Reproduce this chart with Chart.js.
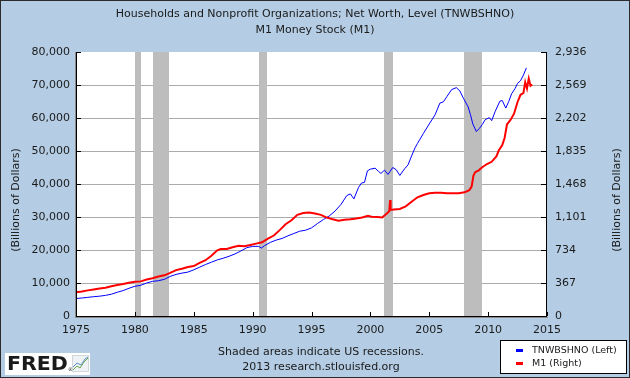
<!DOCTYPE html>
<html>
<head>
<meta charset="utf-8">
<script src="https://cdn.jsdelivr.net/npm/chart.js@4.4.1/dist/chart.umd.min.js"></script>
<style>
  html, body { margin: 0; padding: 0; background: #B4CDE4; }
  canvas { display: block; }
</style>
</head>
<body>
<canvas id="c" width="630" height="378"></canvas>
<script>
// ---- DATA ----
const titleLines = ["Households and Nonprofit Organizations; Net Worth, Level (TNWBSHNO)", "M1 Money Stock (M1)"];
const axisTitle = "(Billions of Dollars)";
const sourceLines = ["Shaded areas indicate US recessions.", "2013 research.stlouisfed.org"];
const seriesNames = ["TNWBSHNO (Left)", "M1 (Right)"];

const xTicks = [1975, 1980, 1985, 1990, 1995, 2000, 2005, 2010, 2015];
const leftTicks = [0, 10000, 20000, 30000, 40000, 50000, 60000, 70000, 80000];
const rightTicks = [0, 367, 734, 1101, 1468, 1835, 2202, 2569, 2936];

const recessionStart = [1980.0, 1981.5, 1990.5, 2001.17, 2007.92];
const recessionEnd   = [1980.5, 1982.9, 1991.2, 2001.9, 2009.5];

const netWorthDates = [1975.0,1975.5,1976.0,1976.5,1977.0,1977.5,1978.0,1978.5,1979.0,1979.5,1980.0,1980.5,1981.0,1981.5,1982.0,1982.5,1983.0,1983.5,1984.0,1984.5,1985.0,1985.5,1986.0,1986.5,1987.0,1987.5,1988.0,1988.5,1989.0,1989.5,1990.0,1990.5,1990.75,1991.0,1991.5,1992.0,1992.5,1993.0,1993.5,1994.0,1994.5,1995.0,1995.5,1996.0,1996.5,1997.0,1997.5,1998.0,1998.3,1998.6,1999.0,1999.25,1999.5,1999.75,2000.0,2000.4,2000.7,2000.9,2001.2,2001.5,2001.9,2002.2,2002.5,2002.9,2003.2,2003.5,2003.8,2004.0,2004.5,2005.0,2005.5,2005.9,2006.2,2006.5,2006.9,2007.3,2007.6,2007.9,2008.3,2008.5,2008.7,2009.0,2009.25,2009.5,2009.75,2010.1,2010.3,2010.6,2011.0,2011.2,2011.5,2011.75,2012.0,2012.3,2012.5,2012.75,2013.0,2013.25];
const netWorth = [5300,5450,5650,5850,6000,6250,6600,7200,7700,8400,9000,9300,10000,10500,10700,11100,12000,12600,13000,13300,14000,14800,15600,16300,17000,17500,18100,18800,19700,20700,21100,21100,20600,21300,22300,23000,23500,24300,25000,25700,26000,26700,28000,29200,30300,31800,33800,36500,37000,35500,39000,40300,40500,44000,44500,44800,43800,43200,44200,42900,45000,44300,42600,44600,45800,48500,51000,52300,55300,58200,61000,64500,64900,66500,68600,69200,68200,66000,63400,61000,58200,55900,56800,58000,59500,60100,59200,62000,65100,65300,63000,65000,67400,69000,70500,71300,73000,75200];

const m1Dates = [1975.0,1975.5,1976.0,1976.5,1977.0,1977.5,1978.0,1978.5,1979.0,1979.5,1980.0,1980.5,1981.0,1981.5,1982.0,1982.5,1983.0,1983.5,1984.0,1984.5,1985.0,1985.5,1986.0,1986.5,1987.0,1987.3,1987.8,1988.3,1988.8,1989.3,1989.8,1990.3,1990.8,1991.3,1991.8,1992.3,1992.8,1993.3,1993.8,1994.3,1994.8,1995.3,1995.8,1996.3,1996.8,1997.3,1997.8,1998.3,1998.8,1999.3,1999.8,2000.1,2000.6,2001.0,2001.3,2001.6,2001.68,2001.72,2002.0,2002.5,2003.0,2003.5,2004.0,2004.5,2005.0,2005.5,2006.0,2006.5,2007.0,2007.5,2008.0,2008.4,2008.6,2008.75,2008.9,2009.2,2009.5,2009.9,2010.3,2010.7,2010.9,2011.2,2011.4,2011.6,2011.9,2012.2,2012.5,2012.75,2013.0,2013.15,2013.3,2013.45,2013.6,2013.75];
const m1 = [265,272,285,295,305,315,330,345,355,370,380,385,405,420,440,452,480,510,525,545,555,590,620,670,730,745,745,765,780,775,790,805,820,860,895,955,1020,1065,1125,1145,1150,1140,1125,1095,1075,1060,1070,1075,1085,1095,1115,1105,1100,1095,1130,1165,1290,1180,1185,1190,1220,1270,1320,1345,1365,1370,1370,1365,1365,1365,1375,1400,1440,1560,1600,1620,1655,1690,1715,1775,1840,1900,1980,2130,2180,2250,2380,2460,2480,2600,2530,2640,2560,2575];

// ---- CHART ----
Chart.defaults.font.family = "'DejaVu Sans', Verdana, sans-serif";
Chart.defaults.font.size = 11;
Chart.defaults.color = '#1a1a1a';

const BG = '#B4CDE4';
const FONT = "11px 'DejaVu Sans', Verdana, sans-serif";

const decor = {
  id: 'decor',
  beforeDraw(chart) {
    const ctx = chart.ctx, a = chart.chartArea;
    ctx.save();
    ctx.fillStyle = BG;
    ctx.fillRect(0, 0, chart.width, chart.height);
    ctx.fillStyle = '#ffffff';
    ctx.fillRect(a.left, a.top, a.right - a.left, a.bottom - a.top);
    ctx.restore();
  },
  beforeDatasetsDraw(chart) {
    const ctx = chart.ctx, a = chart.chartArea, xs = chart.scales.x;
    ctx.save();
    ctx.fillStyle = '#BDBDBD';
    for (let i = 0; i < recessionStart.length; i++) {
      const x0 = xs.getPixelForValue(recessionStart[i]);
      const x1 = xs.getPixelForValue(recessionEnd[i]);
      ctx.fillRect(Math.round(x0), a.top, Math.round(x1) - Math.round(x0), a.bottom - a.top);
    }
    ctx.restore();
  },
  afterDatasetsDraw(chart) {
    const ctx = chart.ctx, a = chart.chartArea;
    const xs = chart.scales.x, yl = chart.scales.y;
    ctx.save();
    // axis shadows
    ctx.fillStyle = '#8a8a8a';
    ctx.fillRect(a.left - 1, a.top, 1, a.bottom - a.top + 2);
    ctx.fillRect(a.left - 1, a.bottom + 1, a.right - a.left + 2, 1);
    // axis lines
    ctx.fillStyle = '#000000';
    ctx.fillRect(a.left, a.top, 1, a.bottom - a.top + 1);
    ctx.fillRect(a.right - 1, a.top, 1, a.bottom - a.top + 1);
    ctx.fillRect(a.left, a.bottom, a.right - a.left, 1);
    // inward tick marks
    leftTicks.forEach(v => {
      const y = Math.round(yl.getPixelForValue(v));
      ctx.fillRect(a.left, y, 5, 1);
      ctx.fillRect(a.right - 6, y, 5, 1);
    });
    xTicks.forEach(v => {
      const x = Math.round(xs.getPixelForValue(v));
      ctx.fillRect(x, a.bottom - 4, 1, 4);
    });
    ctx.restore();
  },
  afterDraw(chart) {
    const ctx = chart.ctx, a = chart.chartArea;
    ctx.save();
    ctx.fillStyle = '#1a1a1a';
    ctx.font = FONT;
    ctx.textAlign = 'center';
    ctx.textBaseline = 'middle';
    ctx.fillText(titleLines[0], 315, 14);
    ctx.fillText(titleLines[1], 315, 30);
    ctx.fillText(sourceLines[0], 321, 352);
    ctx.fillText(sourceLines[1], 321, 367);
    // axis titles (both read bottom-to-top)
    [[16, 200], [617, 200]].forEach(([x, y]) => {
      ctx.save();
      ctx.translate(x, y);
      ctx.rotate(-Math.PI / 2);
      ctx.fillText(axisTitle, 0, 0);
      ctx.restore();
    });
    // legend
    ctx.fillStyle = '#ffffff';
    ctx.fillRect(500, 340, 127, 34);
    ctx.strokeStyle = '#000000';
    ctx.lineWidth = 1;
    ctx.strokeRect(500.5, 340.5, 126, 33);
    const cols = chart.data.datasets.map(d => d.borderColor);
    const legY = [350, 363];
    ctx.font = "9.5px 'DejaVu Sans', Verdana, sans-serif";
    ctx.textAlign = 'left';
    for (let i = 0; i < 2; i++) {
      ctx.fillStyle = i === 0 ? cols[1] : cols[0];
      ctx.fillRect(516, legY[i] - 1, 7, 3);
      ctx.fillStyle = '#1a1a1a';
      ctx.fillText(seriesNames[i], 532, legY[i] + 0.5);
    }
    // FRED logo
    ctx.fillStyle = '#ffffff';
    ctx.fillRect(5, 353, 85, 22);
    ctx.fillStyle = '#1a1a1a';
    ctx.font = "bold 19px 'DejaVu Sans', sans-serif";
    ctx.textBaseline = 'alphabetic';
    ctx.save();
    ctx.translate(7, 370);
    ctx.scale(1.08, 1);
    ctx.fillText('FRED', 0, 0);
    ctx.restore();
    ctx.font = "5px 'DejaVu Sans', sans-serif";
    ctx.fillText('®', 68, 371);
    // icon
    ctx.fillStyle = '#eef2f5';
    ctx.fillRect(72, 355, 17, 17);
    ctx.strokeStyle = '#cfd6dc';
    ctx.strokeRect(72.5, 355.5, 16, 16);
    ctx.lineWidth = 1;
    ctx.strokeStyle = '#6aa84f';
    ctx.beginPath();
    ctx.moveTo(73, 370); ctx.lineTo(77, 366); ctx.lineTo(80, 368); ctx.lineTo(84, 362); ctx.lineTo(88, 358);
    ctx.stroke();
    ctx.strokeStyle = '#5b8fc7';
    ctx.beginPath();
    ctx.moveTo(73, 367); ctx.lineTo(77, 363); ctx.lineTo(81, 365); ctx.lineTo(85, 359); ctx.lineTo(88, 357);
    ctx.stroke();
    // outer border
    ctx.strokeStyle = '#2b2b2b';
    ctx.strokeRect(0.5, 0.5, chart.width - 1, chart.height - 1);
    ctx.restore();
  }
};

const chart = new Chart(document.getElementById('c'), {
  type: 'line',
  data: {
    datasets: [
      {
        label: seriesNames[1],
        data: m1Dates.map((d, i) => ({ x: d, y: m1[i] })),
        yAxisID: 'y1',
        borderColor: '#FF0000',
        borderWidth: 2,
        pointRadius: 0,
        tension: 0,
        order: 0
      },
      {
        label: seriesNames[0],
        data: netWorthDates.map((d, i) => ({ x: d, y: netWorth[i] })),
        yAxisID: 'y',
        borderColor: '#0000FF',
        borderWidth: 1,
        pointRadius: 0,
        tension: 0,
        order: 1
      }
    ]
  },
  options: {
    responsive: false,
    animation: false,
    devicePixelRatio: 1,
    layout: { padding: { top: 52, left: 0, right: 0, bottom: 0 } },
    plugins: { legend: { display: false }, tooltip: { enabled: false } },
    scales: {
      x: {
        type: 'linear',
        min: 1975, max: 2015,
        afterBuildTicks: s => { s.ticks = xTicks.map(v => ({ value: v })); },
        ticks: { callback: v => String(v), padding: 8, maxRotation: 0, autoSkip: false },
        grid: { display: false, drawTicks: false },
        border: { display: false },
        afterFit: s => { s.height = 62; }
      },
      y: {
        position: 'left',
        min: 0, max: 80000,
        afterBuildTicks: s => { s.ticks = leftTicks.map(v => ({ value: v })); },
        ticks: { callback: v => v.toLocaleString('en-US'), padding: 6, autoSkip: false },
        grid: {
          drawTicks: false,
          color: c => (c.tick && c.tick.value === 80000) ? 'rgba(0,0,0,0)' : '#ABABAB'
        },
        border: { display: false },
        afterFit: s => { s.width = 76; }
      },
      y1: {
        position: 'right',
        min: 0, max: 2936,
        afterBuildTicks: s => { s.ticks = rightTicks.map(v => ({ value: v })); },
        ticks: { callback: v => v.toLocaleString('en-US'), padding: 8, autoSkip: false },
        grid: { display: false, drawTicks: false },
        border: { display: false },
        afterFit: s => { s.width = 83; }
      }
    }
  },
  plugins: [decor]
});
</script>
</body>
</html>
